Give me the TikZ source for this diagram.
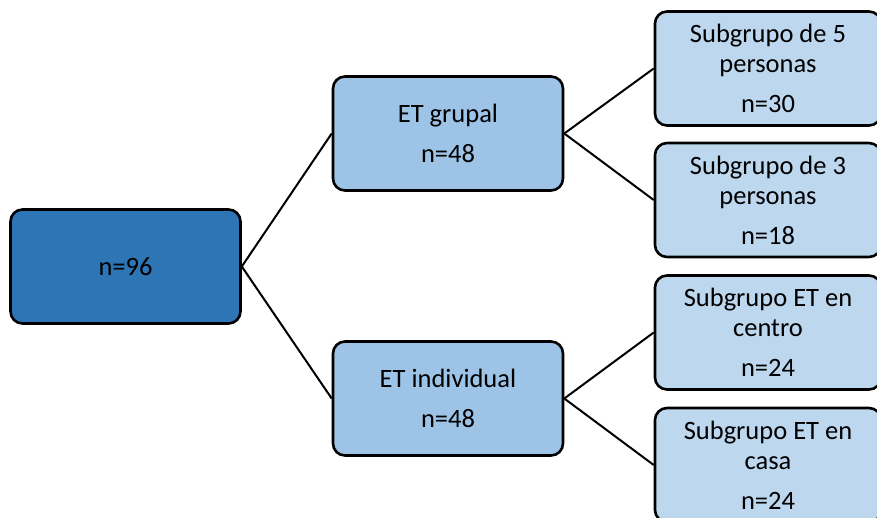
\documentclass[tikz,border=0pt]{standalone}
\usepackage{fontspec}
\setmainfont{Carlito}
\usetikzlibrary{positioning}
\definecolor{mydark}{RGB}{46,117,182}
\definecolor{mymid}{RGB}{157,195,230}
\definecolor{mylight}{RGB}{189,215,238}

\begin{document}
\begin{tikzpicture}[
  x=1pt, y=-1pt,
  line width=2pt,
  mybox/.style={
    draw,
    line width=2.6pt,
    rounded corners=12pt,
    fill=#1,
    minimum width=230pt,
    minimum height=114pt,
    inner sep=0pt,
    align=center,
    font=\fontsize{26.5}{30}\selectfont
    },
  myleaf/.style={
    mybox=mylight,
    minimum width=226pt
    }
]
\useasboundingbox (0,0) rectangle (877,517);
\clip (0,0) rectangle (877,517);

\node[mybox=mydark] (total) at (125.5,266.5) {n=96};

\node[mybox=mymid] (grupal) at (448,133.5) {ET grupal\\[10pt]n=48};
\node[mybox=mymid] (individual) at (448,398.5) {ET individual\\[10pt]n=48};

\node[myleaf] (sub5) at (768,68.5) {Subgrupo de 5\\personas\\[10pt]n=30};
\node[myleaf] (sub3) at (768,200) {Subgrupo de 3\\personas\\[10pt]n=18};
\node[myleaf] (centro) at (768,332.5) {Subgrupo ET en\\centro\\[10pt]n=24};
\node[myleaf] (casa) at (768,465) {Subgrupo ET en\\casa\\[10pt]n=24};

\draw (total.east) -- (grupal.west);
\draw (total.east) -- (individual.west);
\foreach \Hijo in {sub5,sub3}
  \draw (grupal.east) -- (\Hijo.west);
\foreach \Hijo in {centro,casa}
  \draw (individual.east) -- (\Hijo.west);

\end{tikzpicture}
\end{document}
